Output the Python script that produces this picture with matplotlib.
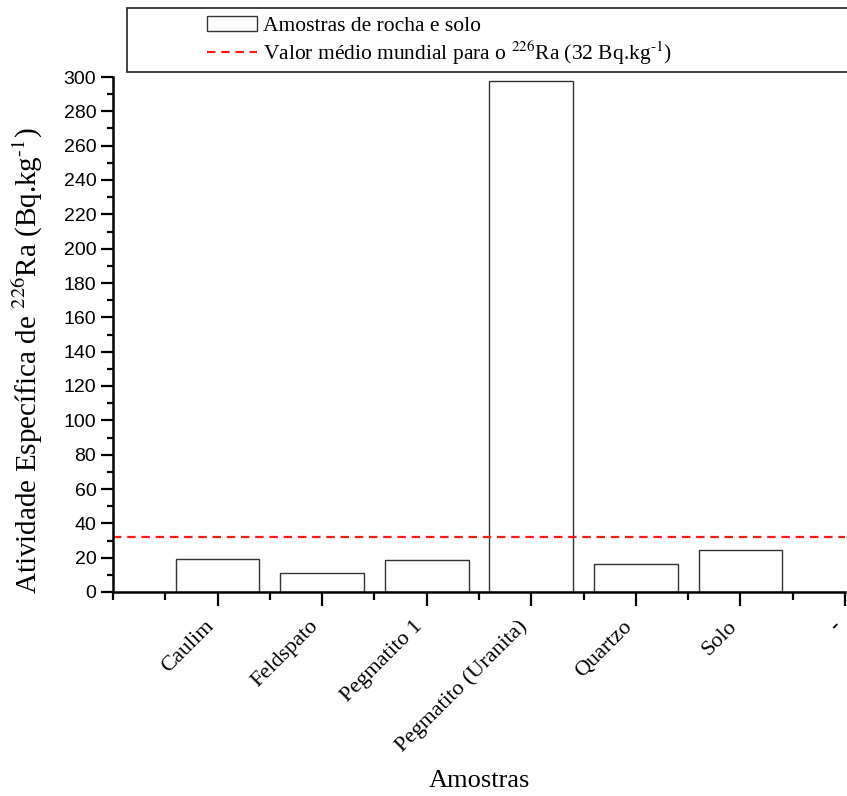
import matplotlib
matplotlib.use("Agg")
import matplotlib.pyplot as plt
from matplotlib.patches import Rectangle
from matplotlib.ticker import MultipleLocator

plt.rcParams['mathtext.fontset'] = 'stix'

# data
amostras = ['Caulim', 'Feldspato', 'Pegmatito 1', 'Pegmatito (Uranita)',
            'Quartzo', 'Solo', '-']
atividade = [19.2, 11.0, 18.6, 297.5, 16.5, 24.5, 0.0]
media_mundial = 32

serif = 'Liberation Serif'
sans = 'Liberation Sans'

fig = plt.figure(figsize=(8.47, 7.96), dpi=100)
ax = fig.add_axes([113 / 847, 1 - 592 / 796, 732 / 847, 515 / 796])

pos = list(range(1, len(amostras) + 1))
bars = ax.bar(pos[:6], atividade[:6], width=0.8, facecolor='white',
              edgecolor='#333333', linewidth=1.0,
              label='Amostras de rocha e solo')
linha = ax.axhline(media_mundial, color='#ff1a1a', lw=1.6, dashes=(3.8, 2.6),
                   label='Valor médio mundial para o $^{\\mathrm{226}}$Ra (32 Bq.kg$^{\\mathrm{\u20101}}$)')

ax.set_xlim(0, 7)
ax.set_ylim(0, 300)
ax.set_xticks(pos)
ax.set_xticklabels(amostras, rotation=45, ha='right', va='top',
                   fontsize=16, family=serif)
ax.xaxis.set_minor_locator(MultipleLocator(0.5))
ax.yaxis.set_major_locator(MultipleLocator(20))
ax.yaxis.set_minor_locator(MultipleLocator(10))
for lab in ax.get_yticklabels():
    lab.set_family(sans)
    lab.set_fontsize(14)

ax.tick_params(axis='x', which='major', length=10, width=1.6, pad=8)
ax.tick_params(axis='x', which='minor', length=6, width=1.6)
ax.tick_params(axis='y', which='major', length=9, width=1.6, pad=3)
ax.tick_params(axis='y', which='minor', length=4.5, width=1.6)

for s in ['top', 'right']:
    ax.spines[s].set_visible(False)
for s in ['left', 'bottom']:
    ax.spines[s].set_linewidth(1.8)

ax.set_xlabel('Amostras', fontsize=19, family=serif)
ax.xaxis.set_label_coords(0.5, -0.345)
ax.set_ylabel('Atividade Específica de $^{\\mathrm{226}}$Ra (Bq.kg$^{\\mathrm{\u20101}}$)',
              fontsize=21, family=serif)
ax.yaxis.set_label_coords(-0.093, 0.45)

# legend box runs off the right edge of the figure
fig.patches.append(Rectangle((127 / 847, 1 - 72 / 796), 800 / 847, 64 / 796,
                             transform=fig.transFigure, facecolor='white',
                             edgecolor='#222222', lw=1.2, clip_on=False))
fig.legend(handles=[bars, linha], loc='upper left',
           bbox_to_anchor=(207 / 847, 1 - 16 / 796), frameon=False,
           prop={'family': serif, 'size': 15.5}, handlelength=2.3,
           handletextpad=0.3, labelspacing=0.12, borderpad=0, borderaxespad=0)

fig.savefig('out.png', dpi=100)
